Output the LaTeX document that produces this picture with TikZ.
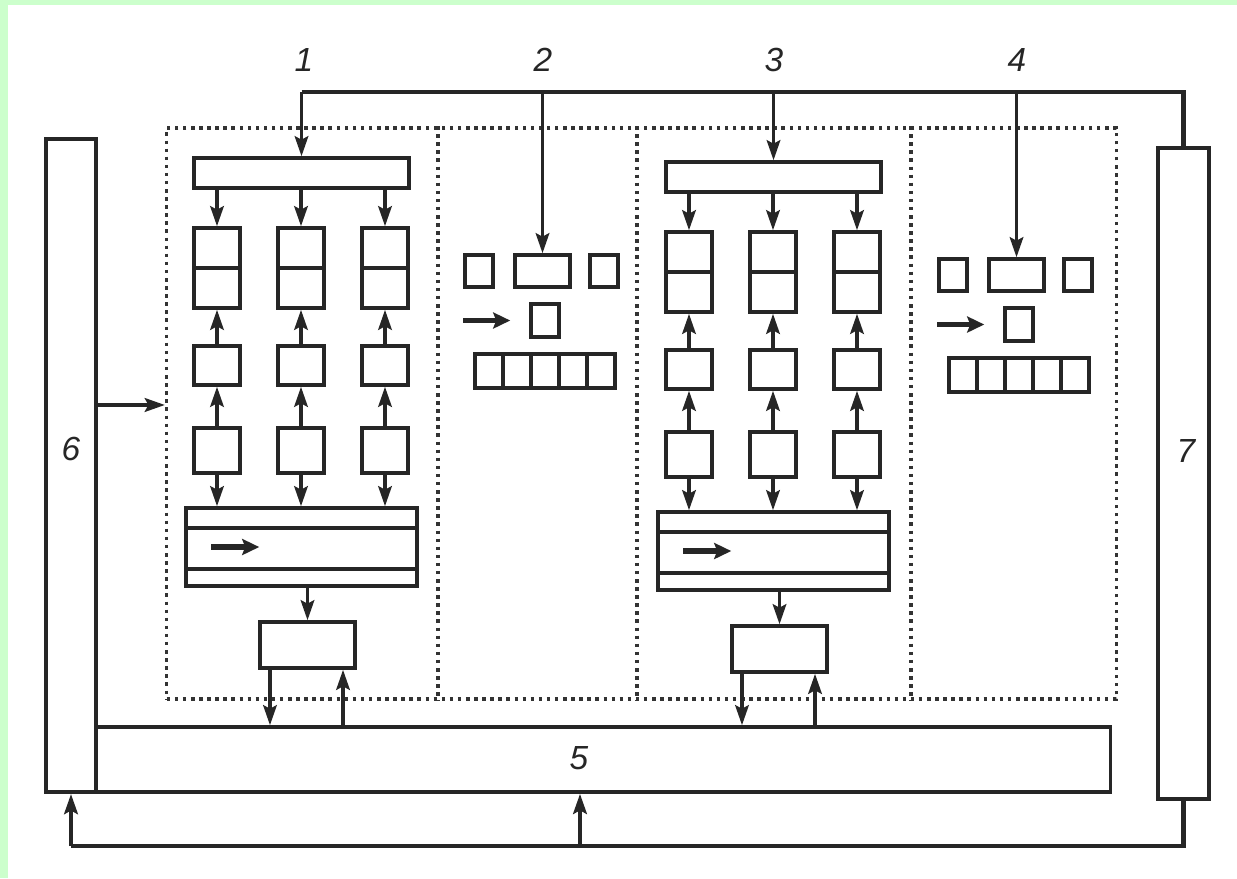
\documentclass[tikz,border=0pt]{standalone}
\usepackage{fontspec}
\setmainfont{Liberation Sans}
\usetikzlibrary{arrows.meta}
\definecolor{scangreen}{RGB}{204,255,204}

\begin{document}
\begin{tikzpicture}[
  x=0.01cm, y=-0.01cm,
  box/.style={
    draw=black!85,
    line width=1pt,
    inner sep=0pt
  },
  frame/.style={
    draw=black!80,
    line width=1pt,
    dash pattern=on 1pt off 1.3pt
  },
  num/.style={
    font=\itshape\fontsize{9.5}{11}\selectfont,
    text=black!85,
    inner sep=0pt
  },
  arrow/.style={-{Stealth[length=2mm,width=1.35mm,inset=0.35mm]}, line width=1pt, draw=black!85},
  bus/.style={line width=1.3pt, draw=black!85},
  fat/.style={-{Stealth[length=1.7mm,width=1.6mm,inset=0.3mm]}, line width=1.6pt, draw=black!85}
]

\fill[white] (0,0) rectangle (1237,878);
\fill[scangreen] (0,0) rectangle (1237,5);
\fill[scangreen] (0,0) rectangle (8,878);
\useasboundingbox (0,0) rectangle (1237,878);

\node[frame, minimum width=9.49cm, minimum height=5.71cm] (frame) at (641.5,413.5) {};
\draw[frame] (frame.north -| 438,0) -- (frame.south -| 438,0);
\draw[frame] (frame.north -| 637,0) -- (frame.south -| 637,0);
\draw[frame] (frame.north -| 911,0) -- (frame.south -| 911,0);

\node[box, minimum width=0.50cm, minimum height=6.53cm] (b6) at (71,465.5) {};
\node[box, minimum width=10.14cm, minimum height=0.65cm] (b5) at (603,759.5) {};
\node[box, minimum width=0.51cm, minimum height=6.51cm] (b7) at (1183.5,473.5) {};
\node[num] (n6) at (71,449) {6};
\node[num] (n5) at (579,758) {5};
\node[num] (n7) at (1186,451) {7};

\node[num] (n1) at (304,60) {1};
\node[num] (n2) at (543,60) {2};
\node[num] (n3) at (774,60) {3};
\node[num] (n4) at (1017,60) {4};

\coordinate (bus) at (0,92);
\coordinate (loop) at (0,846);

\foreach \u/\dx/\dy in {1/0/0, 3/472/4} {
  \node[box, minimum width=2.15cm, minimum height=0.30cm] (bar\u) at (301.5+\dx,173+\dy) {};
  \node[box, minimum width=2.31cm, minimum height=0.78cm] (wd\u) at (301.5+\dx,547+\dy) {};
  \node[box, minimum width=0.95cm, minimum height=0.46cm] (ou\u) at (307.5+\dx,645+\dy) {};
  \draw[box] ([yshift=-0.22cm]wd\u.north west) -- ([yshift=-0.22cm]wd\u.north east);
  \draw[box] ([yshift=0.19cm]wd\u.south west) -- ([yshift=0.19cm]wd\u.south east);
  \draw[fat] ([xshift=0.27cm]wd\u.west) -- ([xshift=0.75cm]wd\u.west);
  \foreach \c/\cx in {1/217, 2/301, 3/385} {
    \node[box, minimum width=0.46cm, minimum height=0.80cm] (sp\u\c) at (\cx+\dx,268+\dy) {};
    \node[box, minimum width=0.46cm, minimum height=0.39cm] (md\u\c) at (\cx+\dx,365.5+\dy) {};
    \node[box, minimum width=0.46cm, minimum height=0.45cm] (lo\u\c) at (\cx+\dx,450.5+\dy) {};
    \draw[box] (sp\u\c.west) -- (sp\u\c.east);
    \draw[arrow] (bar\u.south -| sp\u\c.north) -- (sp\u\c.north);
    \draw[arrow] (md\u\c.north) -- (sp\u\c.south);
    \draw[arrow] (lo\u\c.north) -- (md\u\c.south);
    \draw[arrow] (lo\u\c.south) -- (wd\u.north -| lo\u\c.south);
  }
  \draw[arrow] (ou\u.north |- wd\u.south) -- (ou\u.north);
  \draw[arrow] ([xshift=-0.375cm]ou\u.south) -- ([xshift=-0.375cm]ou\u.south |- b5.north);
  \draw[arrow] ([xshift=0.355cm]ou\u.south |- b5.north) -- ([xshift=0.355cm]ou\u.south);
  \draw[arrow] (bar\u.north |- bus) -- (bar\u.north);
}

\foreach \u/\dx/\dy in {2/0/0, 4/474/4} {
  \node[box, minimum width=0.28cm, minimum height=0.32cm] (l\u) at (479+\dx,271+\dy) {};
  \node[box, minimum width=0.55cm, minimum height=0.32cm] (m\u) at (542.5+\dx,271+\dy) {};
  \node[box, minimum width=0.28cm, minimum height=0.32cm] (r\u) at (604+\dx,271+\dy) {};
  \node[box, minimum width=0.28cm, minimum height=0.33cm] (c\u) at (545+\dx,320.5+\dy) {};
  \foreach \k in {0,...,4}
    \node[box, minimum width=0.28cm, minimum height=0.34cm] (q\u\k) at (489+28*\k+\dx,371+\dy) {};
  \draw[fat] ([xshift=-0.66cm]c\u.west) -- ([xshift=-0.19cm]c\u.west);
  \draw[arrow] (m\u.north |- bus) -- (m\u.north);
}

\draw[bus] (bar1.north |- bus) -- (b7.north |- bus) -- (b7.north);
\draw[arrow, line width=1.3pt] ([yshift=0.605cm]b6.east) coordinate (a6) -- (a6 -| frame.west);
\draw[bus] (b7.south) -- (b7.south |- loop) -- (b6.south |- loop);
\draw[arrow, line width=1.3pt] (b6.south |- loop) -- (b6.south);
\draw[arrow, line width=1.3pt] ([xshift=-0.23cm]b5.south |- loop) -- ([xshift=-0.23cm]b5.south);

\end{tikzpicture}
\end{document}
